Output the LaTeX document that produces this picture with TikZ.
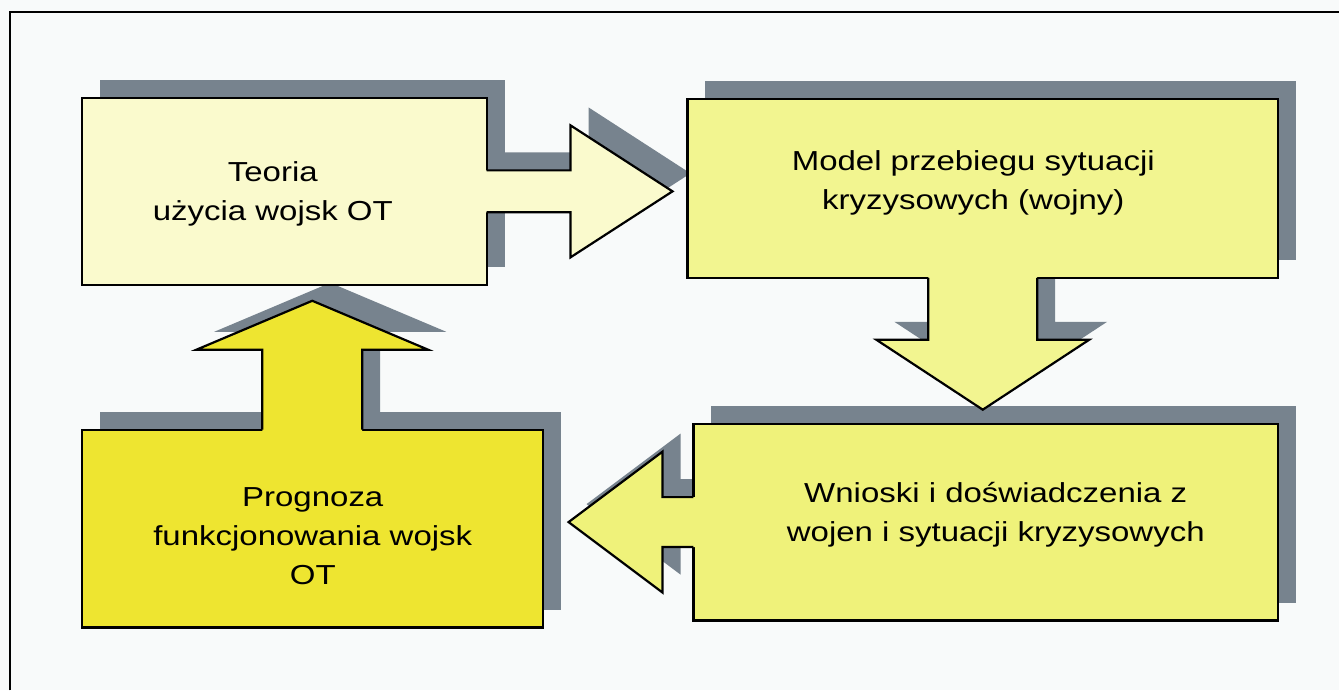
\documentclass[tikz,border=0pt]{standalone}
\usepackage{fontspec}
\setmainfont{Liberation Sans}[FakeStretch=1.2]
\usetikzlibrary{calc}
\pgfdeclarelayer{shadowlayer}
\pgfsetlayers{shadowlayer,main}
\definecolor{bgc}{HTML}{F8FAFA}
\definecolor{shadowc}{HTML}{77838E}
\definecolor{fillA}{HTML}{FAFACD}
\definecolor{fillB}{HTML}{F2F590}
\definecolor{fillC}{HTML}{EFF27A}
\definecolor{fillD}{HTML}{EEE530}
% #1 anchor, #2 rotation, #3 shaft half width, #4 shaft length, #5 head half width, #6 head length, #7 fill colour
\newcommand\blockarr[7]{%
  \begin{pgfonlayer}{shadowlayer}
    \begin{scope}[shift={($(#1)+(18,-18)$)}, rotate=#2]
      \fill[shadowc] (-2,-#3) -- (#4,-#3) -- (#4,-#5) -- ({#4+#6},0) -- (#4,#5) -- (#4,#3) -- (-2,#3) -- cycle;
    \end{scope}
  \end{pgfonlayer}
  \begin{scope}[shift={(#1)}, rotate=#2]
    \fill[#7] (-2,-#3) -- (#4,-#3) -- (#4,-#5) -- ({#4+#6},0) -- (#4,#5) -- (#4,#3) -- (-2,#3) -- cycle;
    \draw[edge] (0,-#3) -- (#4,-#3) -- (#4,-#5) -- ({#4+#6},0) -- (#4,#5) -- (#4,#3) -- (0,#3);
  \end{scope}}
\newcommand\boxshadow[1]{%
  \begin{pgfonlayer}{shadowlayer}
    \fill[shadowc] ($(#1.south west)+(18,-18)$) rectangle ($(#1.north east)+(18,-18)$);
  \end{pgfonlayer}}
\begin{document}
\begin{tikzpicture}[x=1pt,y=-1pt,
  edge/.style={draw=black, line width=2.2pt, line join=miter},
  boxst/.style={rectangle, draw=black, line width=2.2pt, inner sep=0pt, outer sep=0pt},
  lbl/.style={anchor=base, inner sep=0pt, font=\fontsize{27.5}{39}\selectfont, text=black}]
\begin{pgfonlayer}{shadowlayer}
\useasboundingbox[fill=bgc] (0,0) rectangle (1340,691);
\end{pgfonlayer}
\draw[line width=2pt] (10,691) -- (10,12) -- (1340,12);

\node[boxst, fill=fillA, minimum width=405pt, minimum height=187pt] (b1) at (284.5,191.5) {};
\node[boxst, fill=fillB, minimum width=591pt, minimum height=179pt] (b2) at (983.5,188.5) {};
\node[boxst, fill=fillC, minimum width=585pt, minimum height=197pt] (b3) at (986.5,522.5) {};
\node[boxst, fill=fillD, minimum width=461pt, minimum height=198pt] (b4) at (312.5,529) {};
\boxshadow{b1}
\boxshadow{b2}
\boxshadow{b3}
\boxshadow{b4}

\blockarr{b1.east}{0}{21}{84}{66}{102}{fillA}
\blockarr{b2.south}{-90}{54.5}{62}{106.5}{70}{fillB}
\blockarr{b3.west}{180}{25}{31}{70.5}{94}{fillC}
\blockarr{b4.north}{90}{50}{80}{116}{49}{fillD}

\node[lbl] (t1) at (273,182) {\begin{tabular}[t]{@{}c@{}}Teoria\\użycia wojsk OT\end{tabular}};
\node[lbl] (t2) at (974,171) {\begin{tabular}[t]{@{}c@{}}Model przebiegu sytuacji\\kryzysowych (wojny)\end{tabular}};
\node[lbl] (t3) at (996.5,503) {\begin{tabular}[t]{@{}c@{}}Wnioski i doświadczenia z\\wojen i sytuacji kryzysowych\end{tabular}};
\node[lbl] (t4) at (313,507) {\begin{tabular}[t]{@{}c@{}}Prognoza\\funkcjonowania wojsk\\OT\end{tabular}};
\end{tikzpicture}
\end{document}
